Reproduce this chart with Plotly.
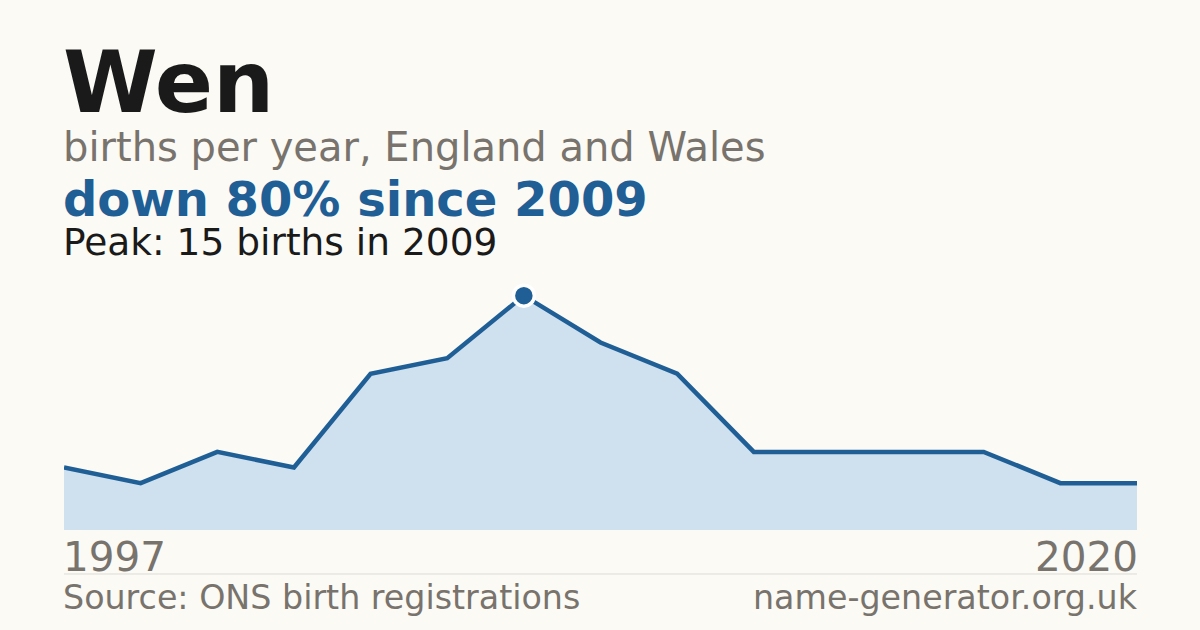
import plotly.graph_objects as go

# births per year for the name, England and Wales (years with a published count)
years = [1997, 1998, 2000, 2002, 2004, 2006, 2009, 2011, 2012, 2014, 2015, 2016, 2017, 2019, 2020]
births = [4, 3, 5, 4, 10, 11, 15, 12, 10, 5, 5, 5, 5, 3, 3]

name = 'Wen'
subtitle = 'births per year, England and Wales'
source = 'Source: ONS birth registrations'
site = 'name-generator.org.uk'

bg = '#fbfaf5'
blue = '#1f5f96'
grey = '#78736c'
font = 'DejaVu Sans'

idx = list(range(len(years)))
peak_i = births.index(max(births))
change = round((births[-1] - births[peak_i]) / births[peak_i] * 100)

fig = go.Figure()

# area under the line
fig.add_trace(go.Scatter(x=idx, y=births, mode='lines', fill='tozeroy',
                         fillcolor='#cfe0ef',
                         line=dict(color=blue, width=4.5),
                         hoverinfo='skip'))

# peak dot
fig.add_trace(go.Scatter(x=[idx[peak_i]], y=[births[peak_i]], mode='markers',
                         marker=dict(size=21, color=blue, line=dict(color='white', width=3.5)),
                         hoverinfo='skip'))

def label(text, x, y, size, color, bold=False, anchor='left', xref='paper'):
    fig.add_annotation(text='<b>' + text + '</b>' if bold else text,
                       x=x, y=y, xref=xref, yref='paper',
                       xanchor=anchor, yanchor='bottom', showarrow=False,
                       xshift=-3 if anchor == 'left' else 3,
                       font=dict(family=font, size=size, color=color))

# header block
label(name, 0, 1.585, 86, '#1a1a1a', bold=True)
label(subtitle, 0, 1.432, 40, grey)
label('down %d%% since %d' % (abs(change), years[peak_i]), 0, 1.203, 48, blue, bold=True)
label('Peak: %d births in %d' % (births[peak_i], years[peak_i]), 0, 1.055, 37.5, '#1a1a1a')

# first / last year
label(str(years[0]), idx[0], -0.212, 40.5, grey, xref='x')
label(str(years[-1]), idx[-1], -0.212, 40.5, grey, anchor='right', xref='x')

# footer
label(source, 0, -0.357, 33.3, grey)
label(site, 1, -0.357, 33.3, grey, anchor='right')

fig.add_shape(type='line', xref='paper', yref='paper', x0=0, x1=1, y0=-0.176, y1=-0.176,
              line=dict(color='#dddbd5', width=1))

fig.update_layout(width=1200, height=630,
                  margin=dict(l=64, r=63, t=280, b=100),
                  paper_bgcolor=bg, plot_bgcolor=bg,
                  showlegend=False,
                  xaxis=dict(range=[0, len(years) - 1], visible=False, fixedrange=True),
                  yaxis=dict(range=[0, 16], visible=False, fixedrange=True))

# drop the browser's default page margin so the chart fills the window
fig.write_html('out.html', config={'displayModeBar': False},
               post_script="document.body.style.margin='0';"
                           "document.body.style.background='%s';" % bg)
